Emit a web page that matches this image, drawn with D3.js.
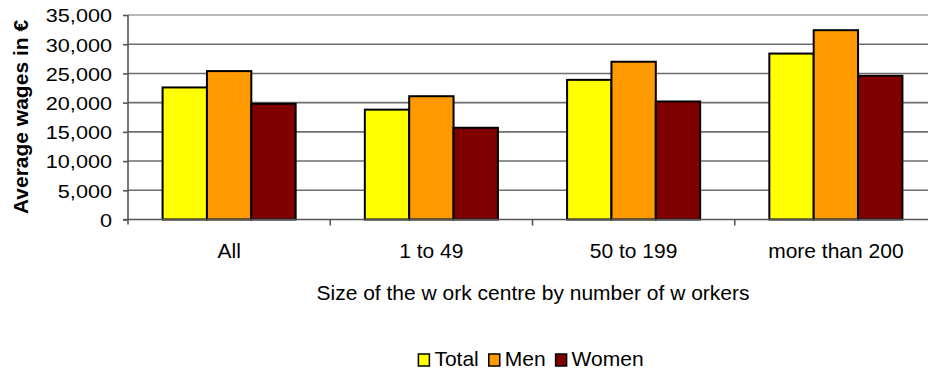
<!DOCTYPE html>
<html>
<head>
<meta charset="utf-8">
<script src="https://cdn.jsdelivr.net/npm/d3@7/dist/d3.min.js"></script>
<style>
  html, body { margin: 0; padding: 0; background: #fff; }
  svg { display: block; font-family: "Liberation Sans", Arial, sans-serif; }
</style>
</head>
<body>
<svg id="chart" width="928" height="371"></svg>
<script>
// Average wages by size of work centre
const categories = ["All", "1 to 49", "50 to 199", "more than 200"];
const seriesNames = ["Total", "Men", "Women"];
const totalValues = [22600, 18800, 23900, 28400];
const menValues = [25400, 21100, 27000, 32400];
const womenValues = [19800, 15700, 20200, 24600];
const yTicks = [0, 5000, 10000, 15000, 20000, 25000, 30000, 35000];
const colors = ["#FFFF00", "#FF9900", "#800000"];

const seriesValues = [totalValues, menValues, womenValues];
const rows = categories.map((c, i) => ({
  category: c,
  values: seriesNames.map((s, j) => ({ series: s, value: seriesValues[j][i], color: colors[j] }))
}));

const svg = d3.select("#chart");
const fontSize = 21;

const x = d3.scaleBand().domain(categories).range([128, 937]).paddingInner(0).paddingOuter(0);
const bw = x.bandwidth();
const gap = bw * 0.171;
const xInner = d3.scaleBand().domain(seriesNames).range([gap, bw - gap]).padding(0);
const y = d3.scaleLinear().domain([0, 35000]).range([219.5, 15]);

// horizontal gridlines
svg.append("g")
  .selectAll("line")
  .data(yTicks.filter(t => t > 0))
  .join("line")
  .attr("x1", 128).attr("x2", 937)
  .attr("y1", d => y(d)).attr("y2", d => y(d))
  .attr("stroke", d => d === 35000 ? "#a0a0a0" : "#6e6e6e")
  .attr("stroke-width", 1.6);

// bars
svg.append("g")
  .selectAll("g")
  .data(rows)
  .join("g")
  .attr("transform", d => `translate(${x(d.category)},0)`)
  .selectAll("rect")
  .data(d => d.values)
  .join("rect")
  .attr("x", d => xInner(d.series))
  .attr("width", xInner.bandwidth())
  .attr("y", d => y(d.value))
  .attr("height", d => y(0) - y(d.value))
  .attr("fill", d => d.color)
  .attr("stroke", "#000")
  .attr("stroke-width", 2);

// y axis
const yAxis = svg.append("g")
  .attr("transform", "translate(128,0)")
  .call(d3.axisLeft(y).tickValues(yTicks).tickFormat(d3.format(",")).tickSize(5).tickSizeOuter(0).tickPadding(11));
yAxis.select(".domain").attr("stroke", "#555").attr("stroke-width", 1.6)
  .attr("d", `M0,${y(35000)}V${y(0) + 5}`);
yAxis.selectAll(".tick line").attr("stroke", "#555").attr("stroke-width", 1.6);
yAxis.selectAll(".tick text")
  .attr("font-size", 19)
  .attr("font-family", "Liberation Sans, Arial, sans-serif")
  .attr("fill", "#000")
  .attr("x", 0)
  .attr("transform", "translate(-16,0) scale(1.14,1)")
  .attr("dy", "0.36em");

// x axis baseline
svg.append("line")
  .attr("x1", 123).attr("x2", 937)
  .attr("y1", y(0)).attr("y2", y(0))
  .attr("stroke", "#555").attr("stroke-width", 1.6);

// category boundary ticks
svg.append("g")
  .selectAll("line")
  .data(categories.slice(1))
  .join("line")
  .attr("x1", d => x(d)).attr("x2", d => x(d))
  .attr("y1", y(0)).attr("y2", y(0) + 6)
  .attr("stroke", "#555").attr("stroke-width", 1.6);

// category labels
svg.append("g")
  .selectAll("text")
  .data(categories)
  .join("text")
  .attr("x", d => x(d) + bw / 2)
  .attr("y", 258)
  .attr("text-anchor", "middle")
  .attr("font-size", fontSize)
  .text(d => d);

// axis titles
svg.append("text")
  .attr("x", 533)
  .attr("y", 300)
  .attr("text-anchor", "middle")
  .attr("font-size", fontSize)
  .text("Size of the w ork centre by number of w orkers");

svg.append("text")
  .attr("transform", "translate(28,117) rotate(-90)")
  .attr("text-anchor", "middle")
  .attr("font-size", fontSize)
  .attr("font-weight", "bold")
  .text("Average wages in €");

// legend
const legend = svg.append("g");
const items = legend.selectAll("g")
  .data(seriesNames.map((s, j) => ({ name: s, color: colors[j] })))
  .join("g");
items.append("rect")
  .attr("width", 11).attr("height", 12)
  .attr("y", 354)
  .attr("fill", d => d.color)
  .attr("stroke", "#000")
  .attr("stroke-width", 1.5);
items.append("text")
  .attr("x", 16)
  .attr("y", 366)
  .attr("font-size", fontSize)
  .text(d => d.name);

const widths = [];
items.each(function () {
  const w = this.querySelector("text").getComputedTextLength();
  widths.push(16 + w);
});
const totalWidth = d3.sum(widths) + 10 * (widths.length - 1);
let cursor = 531 - totalWidth / 2;
items.attr("transform", (d, i) => {
  const t = `translate(${cursor},0)`;
  cursor += widths[i] + 10;
  return t;
});
</script>
</body>
</html>
